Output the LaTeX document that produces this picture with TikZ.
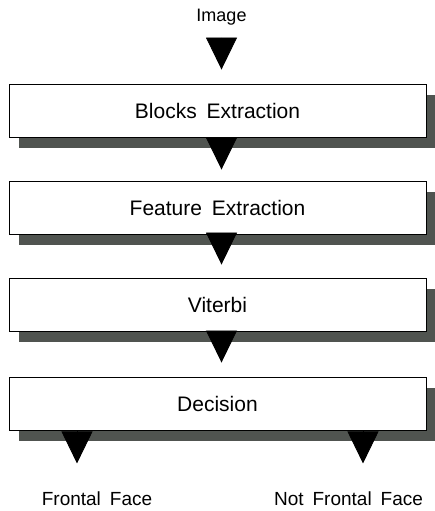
\documentclass[tikz,border=0pt]{standalone}
\usepackage{fontspec}
\setmainfont[WordSpace=1.7]{Liberation Sans}
\usepackage{tikz}
\usetikzlibrary{arrows.meta,shadows,positioning,calc}
\definecolor{shadowgray}{RGB}{80,84,80}

\begin{document}
\begin{tikzpicture}[x=1pt,y=-1pt,
    stage/.style={draw=black, line width=0.9pt, fill=white, minimum width=417pt, minimum height=53pt, inner sep=0pt,
        font=\fontsize{21}{25}\selectfont,
        drop shadow={shadow xshift=10pt, shadow yshift=-11pt, fill=shadowgray, opacity=1}},
    lbl/.style={inner sep=0pt, font=\fontsize{19}{23}\selectfont},
    flow/.style={line width=0.8pt, -{Triangle[width=31pt,length=32pt]}}]
    \useasboundingbox (0,0) rectangle (435,511);

    \node (img) at (221.5,21.7) [lbl, anchor=base, font=\fontsize{18}{22}\selectfont] {Image};

    \node (b1) at (217.5,110.5) [stage] {Blocks Extraction};
    \node (b2) at (217.5,207.5) [stage] {Feature Extraction};
    \node (b3) at (217.5,304.5) [stage] {Viterbi};
    \node (b4) at (217.5,403.5) [stage] {Decision};

    \node (ff) at (97,505) [lbl, anchor=base] {Frontal Face};
    \node (nf) at (348.5,505) [lbl, anchor=base] {Not Frontal Face};

    \draw [flow] ([yshift=-16pt]img.base) -- ([xshift=4pt,yshift=14pt]b1.north);
    \draw [flow] ([xshift=4pt]b1.south) -- ([xshift=4pt,yshift=11pt]b2.north);
    \draw [flow] ([xshift=4pt]b2.south) -- ([xshift=4pt,yshift=13pt]b3.north);
    \draw [flow] ([xshift=4pt]b3.south) -- ([xshift=4pt,yshift=14pt]b4.north);

    % two outcomes of the decision
    \draw [flow] ([xshift=-140.5pt]b4.south) -- ([xshift=-140.5pt,yshift=-33pt]b4.south);
    \draw [flow] ([xshift=145.5pt]b4.south) -- ([xshift=145.5pt,yshift=-33pt]b4.south);
\end{tikzpicture}
\end{document}
